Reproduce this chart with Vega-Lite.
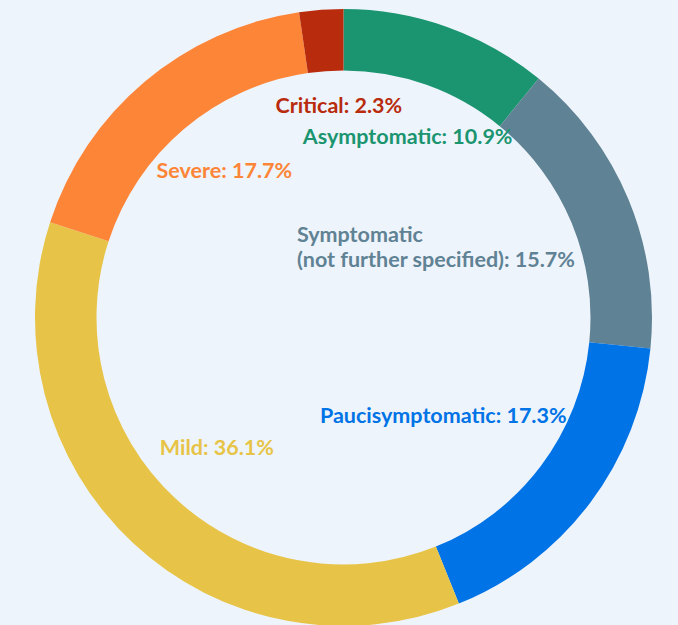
{
  "$schema": "https://vega.github.io/schema/vega-lite/v6.json",
  "width": 669,
  "height": 615,
  "padding": {"left": 9, "top": 10, "right": 0, "bottom": 0},
  "autosize": {"type": "none"},
  "background": "#eef4fb",
  "config": {"view": {"stroke": null}},
  "data": {
    "values": [
      {"cat": "Asymptomatic", "value": 10.9, "label": "Asymptomatic: 10.9%"},
      {"cat": "Symptomatic", "value": 15.7, "label": "Symptomatic\n(not further specified): 15.7%"},
      {"cat": "Paucisymptomatic", "value": 17.3, "label": "Paucisymptomatic: 17.3%"},
      {"cat": "Mild", "value": 36.1, "label": "Mild: 36.1%"},
      {"cat": "Severe", "value": 17.7, "label": "Severe: 17.7%"},
      {"cat": "Critical", "value": 2.3, "label": "Critical: 2.3%"}
    ]
  },
  "transform": [{"window": [{"op": "row_number", "as": "seq"}]}],
  "encoding": {
    "theta": {"field": "value", "type": "quantitative", "stack": true},
    "order": {"field": "seq", "type": "quantitative"},
    "color": {
      "field": "cat",
      "type": "nominal",
      "sort": ["Asymptomatic", "Symptomatic", "Paucisymptomatic", "Mild", "Severe", "Critical"],
      "scale": {
        "domain": ["Asymptomatic", "Symptomatic", "Paucisymptomatic", "Mild", "Severe", "Critical"],
        "range": ["#1b9570", "#5f8294", "#0073e6", "#e7c447", "#fd8538", "#b82b0d"]
      },
      "legend": null
    }
  },
  "layer": [
    {"mark": {"type": "arc", "radius": 308.5, "radius2": 247}},
    {
      "mark": {"type": "text", "radius": 191, "font": "Lato", "fontWeight": "bold", "fontSize": 21.5, "align": "center", "baseline": "middle"},
      "encoding": {"text": {"condition": {"test": "datum.cat === 'Asymptomatic'", "field": "label"}, "value": ""}}
    },
    {
      "mark": {"type": "text", "radius": 94, "thetaOffset": -1.696, "lineBreak": "\n", "lineHeight": 25, "font": "Lato", "fontWeight": "bold", "fontSize": 21.5, "align": "left", "baseline": "middle"},
      "encoding": {"text": {"condition": {"test": "datum.cat === 'Symptomatic'", "field": "label"}, "value": ""}}
    },
    {
      "mark": {"type": "text", "radius": 141, "thetaOffset": 0.141, "font": "Lato", "fontWeight": "bold", "fontSize": 21.5, "align": "center", "baseline": "middle"},
      "encoding": {"text": {"condition": {"test": "datum.cat === 'Paucisymptomatic'", "field": "label"}, "value": ""}}
    },
    {
      "mark": {"type": "text", "radius": 182.5, "thetaOffset": 0.016, "font": "Lato", "fontWeight": "bold", "fontSize": 21.5, "align": "center", "baseline": "middle"},
      "encoding": {"text": {"condition": {"test": "datum.cat === 'Mild'", "field": "label"}, "value": ""}}
    },
    {
      "mark": {"type": "text", "radius": 188, "thetaOffset": 0.014, "font": "Lato", "fontWeight": "bold", "fontSize": 21.5, "align": "center", "baseline": "middle"},
      "encoding": {"text": {"condition": {"test": "datum.cat === 'Severe'", "field": "label"}, "value": ""}}
    },
    {
      "mark": {"type": "text", "radius": 211, "thetaOffset": 0.05, "font": "Lato", "fontWeight": "bold", "fontSize": 21.5, "align": "center", "baseline": "middle"},
      "encoding": {"text": {"condition": {"test": "datum.cat === 'Critical'", "field": "label"}, "value": ""}}
    }
  ]
}
